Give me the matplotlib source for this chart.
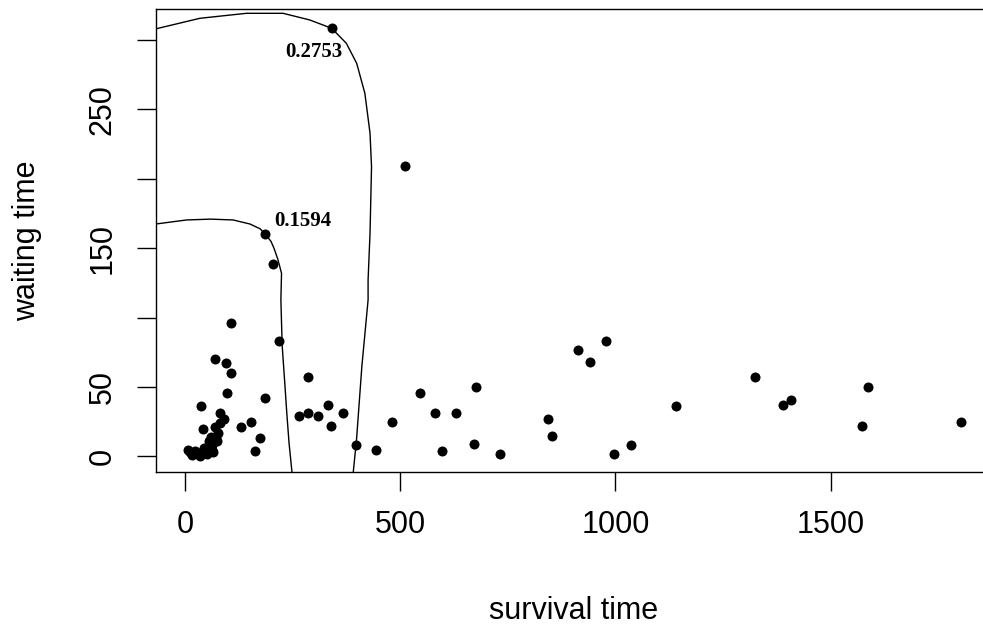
import matplotlib
matplotlib.use("Agg")
import matplotlib.pyplot as plt

# survival time vs waiting time
survival = [341, 511, 186, 205, 219, 108, 71, 95, 108, 99,
            38, 81, 90, 131, 154, 43, 70, 78, 60, 74,
            55, 175, 164, 186, 285, 266, 286, 309, 332, 340,
            368, 397, 443, 480, 545, 582, 629, 675, 596, 671,
            732, 843, 852, 913, 940, 979, 997, 1035, 1140, 1323,
            1388, 1407, 1587, 1573, 1802, 8, 24, 39, 16, 35,
            51, 66, 62, 12, 45, 64, 72, 82]
waiting = [309, 209, 160, 139, 83, 96, 70, 67, 60, 46,
           36, 31, 27, 21, 25, 20, 21, 17, 14, 11,
           11, 13, 4, 42, 57, 29, 31, 29, 37, 22,
           31, 8, 5, 25, 46, 31, 31, 50, 4, 9,
           2, 27, 15, 77, 68, 83, 2, 8, 36, 57,
           37, 41, 50, 22, 25, 5, 4, 3, 1, 0,
           2, 3, 5, 3, 6, 8, 14, 24]

# contour lines
c1_x = [-67, 4, 60, 112, 151, 175, 187, 200, 207, 216, 224.5, 223, 226, 232, 237, 242, 249]
c1_y = [167.5, 170.4, 171, 170.4, 167.5, 164, 160, 155, 150, 142, 132, 113, 80, 53, 30, 9.5, -12]
c1_label = "0.1594"

c2_x = [-67, -62, 35, 143, 228, 290, 341, 375, 399, 418, 430, 433.5, 430, 425.5, 425.5, 411, 398.6, 390.8]
c2_y = [308, 308.5, 315.7, 319.3, 319.3, 314.5, 308.5, 297.7, 283.3, 261.7, 232.9, 208.8, 160.8, 127.2, 112.8, 64.7, 11.9, -12.1]
c2_label = "0.2753"

yticks = [0, 50, 100, 150, 200, 250, 300]
ytick_labels = ["0", "50", "", "150", "", "250", ""]
xticks = [0, 500, 1000, 1500]

plt.rcParams["font.family"] = ["Liberation Sans", "DejaVu Sans"]

fig = plt.figure(figsize=(9.83, 6.28), dpi=100)
ax = fig.add_axes([156 / 983, 1 - 472 / 628, (991 - 156) / 983, (472 - 9) / 628])

ax.plot(survival, waiting, "o", color="black", ms=7.2, mew=0)
ax.plot(c1_x, c1_y, color="black", lw=1.0)
ax.plot(c2_x, c2_y, color="black", lw=1.0)

ax.text(274.7, 166.1, c1_label, ha="center", va="baseline", fontsize=15,
        fontweight="bold", family="Liberation Serif")
ax.text(300.7, 287.6, c2_label, ha="center", va="baseline", fontsize=15,
        fontweight="bold", family="Liberation Serif")

ax.set_xlim(-67, 1872)
ax.set_ylim(-11.2, 322.4)

ax.set_xticks(xticks)
ax.set_yticks(yticks)
ax.set_yticklabels(ytick_labels, rotation=90, va="center")
ax.tick_params(length=13.5, width=1.0, labelsize=22, pad=14, color="black")

for s in ax.spines.values():
    s.set_linewidth(1.0)

ax.set_xlabel("survival time", fontsize=22, va="center")
ax.xaxis.set_label_coords(0.5, -0.300)
ax.set_ylabel("waiting time", fontsize=22, va="center")
ax.yaxis.set_label_coords(-0.155, 0.5)

fig.savefig("out.png", dpi=100)
